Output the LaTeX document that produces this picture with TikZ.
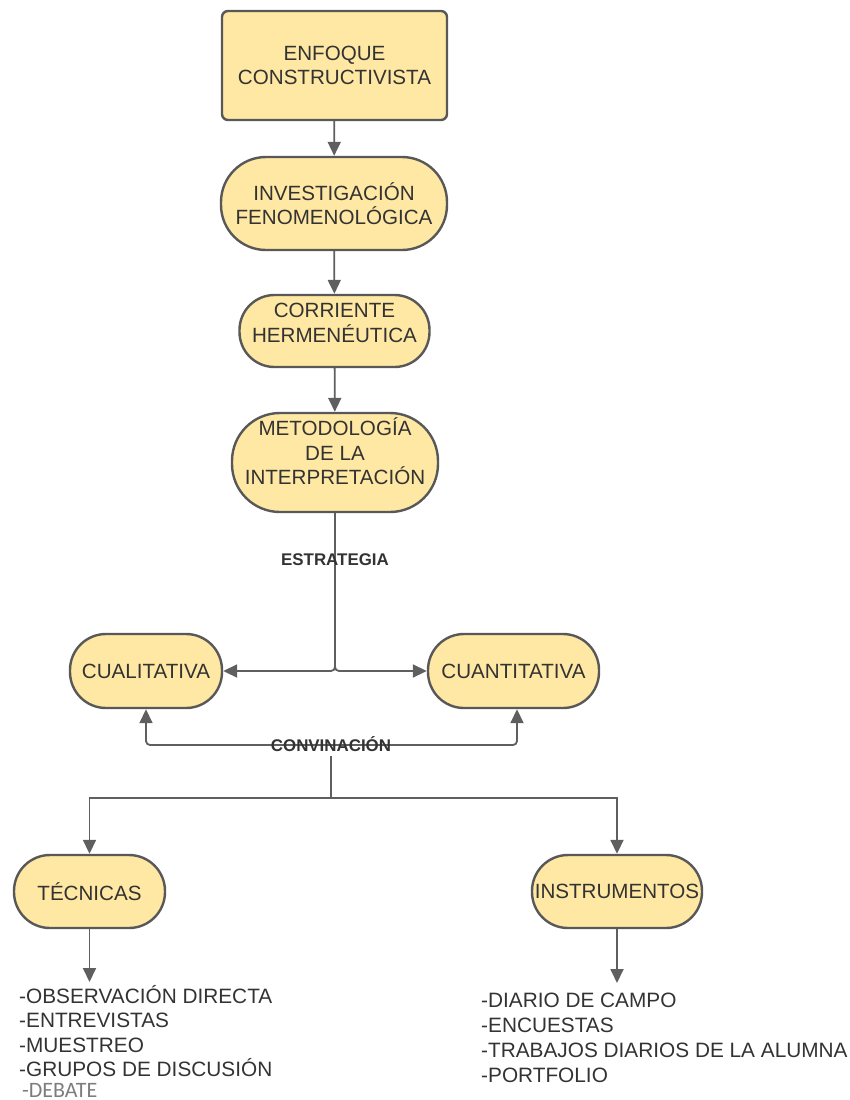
\documentclass[tikz,border=0pt]{standalone}
\usepackage{fontspec}
\setmainfont{Liberation Sans}
\newfontfamily\debfont{Carlito}
\usetikzlibrary{arrows.meta,calc}
\definecolor{boxfill}{RGB}{255,232,163}
\definecolor{boxline}{RGB}{88,88,88}
\definecolor{txt}{RGB}{51,51,51}
\definecolor{lineclr}{RGB}{95,95,95}
\definecolor{debgray}{RGB}{125,125,125}
\begin{document}
\begin{tikzpicture}[x=1pt,y=-1pt,
  box/.style={draw=boxline, line width=2.4pt, fill=boxfill, text=txt,
    font=\fontsize{20.6}{24.5}\selectfont, align=center, inner sep=0pt},
  link/.style={draw=lineclr, line width=1.8pt},
  conn/.style={link, -{Triangle[width=13pt,length=14pt]}},
  lbl/.style={font=\fontsize{16.9}{18}\selectfont\bfseries, text=txt, inner sep=1pt},
  lst/.style={font=\fontsize{20.8}{24.4}\selectfont, text=txt, align=left, inner sep=0pt, anchor=north west}]
\useasboundingbox (0,0) rectangle (850,1100);

% nodes
\node[box, rounded corners=6pt, minimum width=225pt, minimum height=109pt] (enf) at (334.5,65.5) {ENFOQUE\\CONSTRUCTIVISTA};
\node[box, rounded corners=45pt, minimum width=226pt, minimum height=93pt] (inv) at (334,203.5) {INVESTIGACIÓN\\FENOMENOLÓGICA};
\node[box, rounded corners=35pt, minimum width=190pt, minimum height=72pt, text depth=16pt] (cor) at (334.5,331) {CORRIENTE\\HERMENÉUTICA};
\node[box, rounded corners=48pt, minimum width=206pt, minimum height=99pt, text depth=22pt] (met) at (335,462.5) {METODOLOGÍA\\DE LA\\INTERPRETACIÓN};
\node[box, rounded corners=36pt, minimum width=152pt, minimum height=74pt] (cual) at (146,671) {CUALITATIVA};
\node[box, rounded corners=36pt, minimum width=171pt, minimum height=74pt] (cuan) at (513.5,671) {CUANTITATIVA};
\node[box, rounded corners=36pt, minimum width=151pt, minimum height=73pt] (tec) at (89.5,891.5) {TÉCNICAS};
\node[box, rounded corners=36pt, minimum width=170pt, minimum height=73pt] (ins) at (617,891.5) {INSTRUMENTOS};

% lists
\node[lst] (tl) at (19,985) {-OBSERVACIÓN DIRECTA\\-ENTREVISTAS\\-MUESTREO\\-GRUPOS DE DISCUSIÓN\\[-3.5pt]{\debfont\color{debgray}\fontsize{22}{22}\selectfont\hspace*{3pt}-DEBATE}};
\node[lst, font=\fontsize{20.8}{25}\selectfont] (il) at (481,993) {-DIARIO DE CAMPO\\-ENCUESTAS\\-TRABAJOS DIARIOS DE LA ALUMNA\\-PORTFOLIO};

% connectors
\draw[conn] (enf) -- (inv);
\draw[conn] (inv) -- (cor);
\draw[conn] (cor) -- (met);
\draw[conn, rounded corners=4pt] (met.south) |- (cual.east);
\draw[conn, rounded corners=4pt] (met.south) |- (cuan.west);
\node[lbl] (estr) at (335,560) {ESTRATEGIA};

\coordinate (cb) at (331,745);
\draw[link, {Triangle[width=13pt,length=14pt]}-{Triangle[width=13pt,length=14pt]}, rounded corners=4pt]
  (cual.south) |- (cb) -| ([xshift=3.5pt]cuan.south);
\node[lbl] (conv) at (331,744) {CONVINACIÓN};

\coordinate (br) at (331,798);
\draw[link] ([yshift=-3pt]conv.south) -- (br);
\draw[conn] (br) -| (tec.north);
\draw[conn] (br) -| (ins.north);

\draw[conn] (tec.south) -- ($(tec.south |- tl.north)+(0,-3)$);
\draw[conn] (ins.south) -- ($(ins.south |- il.north)+(0,-10)$);
\end{tikzpicture}
\end{document}
